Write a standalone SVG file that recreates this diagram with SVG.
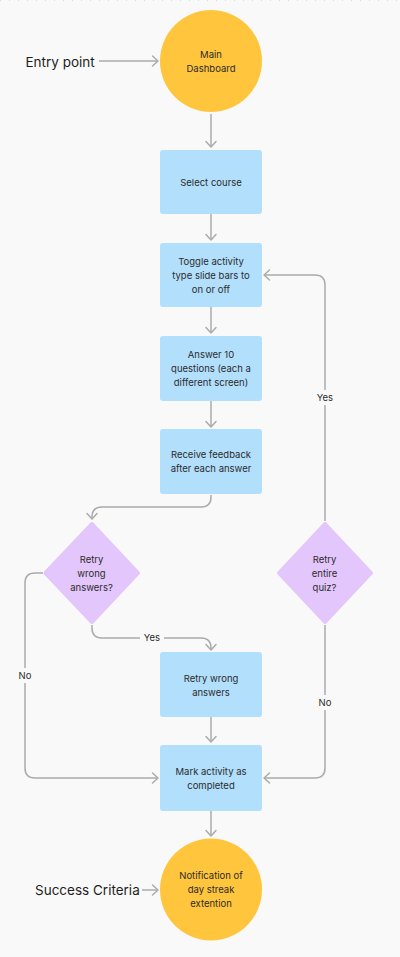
<svg xmlns="http://www.w3.org/2000/svg" width="400" height="957" viewBox="0 0 400 957">
<defs>
<marker id="arr" viewBox="-8 -7 10 14" refX="0" refY="0" markerWidth="10" markerHeight="14" orient="auto" markerUnits="userSpaceOnUse">
<path d="M-5.5,-5 L0,0 L-5.5,5" fill="none" stroke="#ababab" stroke-width="1.5" stroke-linecap="round" stroke-linejoin="round"/>
</marker>
<style>
.c{fill:#ffc53d}
.b{fill:#b2dffc}
.d{fill:#e3c6fb;stroke:#e3c6fb;stroke-width:4;stroke-linejoin:round}
.t{font-family:Inter,"Liberation Sans",sans-serif;font-size:9.5px;fill:#2c2c2c;text-anchor:middle}
.big{font-family:Inter,"Liberation Sans",sans-serif;font-size:13.5px;fill:#1e1e1e}
.l{fill:none;stroke:#ababab;stroke-width:1.5;marker-end:url(#arr)}
.lbg{fill:#f9f9f9}
</style>
</defs>
<rect width="400" height="957" fill="#f9f9f9"/>
<line x1="0" y1="0.5" x2="400" y2="0.5" stroke="#dcdcdc" stroke-width="1" stroke-dasharray="1 8"/>

<g id="connectors">
<path class="l" d="M99,61 H158"/>
<path class="l" d="M211,114 V147"/>
<path class="l" d="M211,214 V240"/>
<path class="l" d="M211,307 V333"/>
<path class="l" d="M211,401 V427"/>
<path class="l" d="M211,495 V497 Q211,507 201,507 H102 Q92,507 92,517 V519"/>
<path class="l" d="M43,573 H35 Q25,573 25,583 V768 Q25,778 35,778 H158"/>
<path class="l" d="M92,625 V628 Q92,638 102,638 H201 Q211,638 211,648 V650"/>
<path class="l" d="M211,717 V742"/>
<path class="l" d="M325,625 V768 Q325,778 315,778 H264"/>
<path class="l" d="M325,521 V285 Q325,275 315,275 H264"/>
<path class="l" d="M211,811 V836"/>
<path class="l" d="M142,890 H158"/>
<rect class="lbg" x="16" y="668" width="18" height="15"/>
<text class="t" x="25" y="679">No</text>
<rect class="lbg" x="140" y="631" width="24" height="14"/>
<text class="t" x="152" y="641.4">Yes</text>
<rect class="lbg" x="316" y="695" width="18" height="15"/>
<text class="t" x="325" y="705.7">No</text>
<rect class="lbg" x="313" y="390" width="24" height="15"/>
<text class="t" x="325" y="401.1">Yes</text>
</g>

<g id="entry-label"><text class="big" x="25.5" y="66.5">Entry point</text></g>
<g id="success-label"><text class="big" x="35" y="895">Success Criteria</text></g>

<g id="main-dashboard">
<circle class="c" cx="211" cy="61" r="51"/>
<text class="t" x="211" y="57.5">Main</text>
<text class="t" x="211" y="71.5">Dashboard</text>
</g>
<g id="select-course">
<rect class="b" x="160" y="150" width="102" height="64" rx="3"/>
<text class="t" x="211" y="185.7">Select course</text>
</g>
<g id="toggle-activity">
<rect class="b" x="160" y="243" width="102" height="64" rx="3"/>
<text class="t" x="211" y="265.1">Toggle activity</text>
<text class="t" x="211" y="279.1">type slide bars to</text>
<text class="t" x="211" y="293.1">on or off</text>
</g>
<g id="answer-questions">
<rect class="b" x="160" y="336" width="102" height="65" rx="3"/>
<text class="t" x="211" y="358.1">Answer 10</text>
<text class="t" x="211" y="372.1">questions (each a</text>
<text class="t" x="211" y="386.1">different screen)</text>
</g>
<g id="receive-feedback">
<rect class="b" x="160" y="429" width="102" height="65" rx="3"/>
<text class="t" x="211" y="457.7">Receive feedback</text>
<text class="t" x="211" y="471.9">after each answer</text>
</g>
<g id="retry-wrong-decision">
<polygon class="d" points="92,524 138,573 92,622 45.5,573"/>
<text class="t" x="91.5" y="563.4">Retry</text>
<text class="t" x="91.5" y="577">wrong</text>
<text class="t" x="91.5" y="591">answers?</text>
</g>
<g id="retry-entire-decision">
<polygon class="d" points="325,524 371,573 325,622 279,573"/>
<text class="t" x="324.5" y="563.4">Retry</text>
<text class="t" x="324.5" y="577">entire</text>
<text class="t" x="324.5" y="591">quiz?</text>
</g>
<g id="retry-wrong-answers">
<rect class="b" x="160" y="652" width="102" height="65" rx="3"/>
<text class="t" x="211" y="681.7">Retry wrong</text>
<text class="t" x="211" y="695.7">answers</text>
</g>
<g id="mark-completed">
<rect class="b" x="160" y="745" width="102" height="66" rx="3"/>
<text class="t" x="211" y="775.1">Mark activity as</text>
<text class="t" x="211" y="788.7">completed</text>
</g>
<g id="notification">
<circle class="c" cx="211" cy="889.5" r="51"/>
<text class="t" x="211" y="879.4">Notification of</text>
<text class="t" x="211" y="893.4">day streak</text>
<text class="t" x="211" y="907.4">extention</text>
</g>
</svg>
